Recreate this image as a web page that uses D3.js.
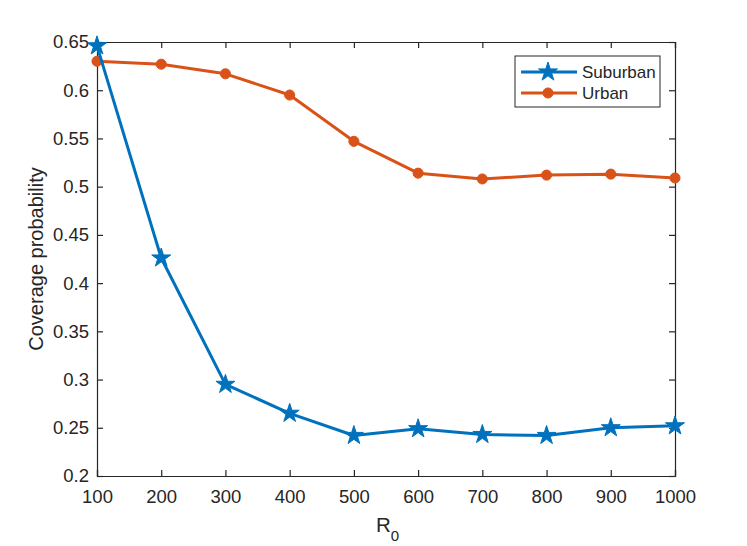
<!DOCTYPE html>
<html>
<head>
<meta charset="utf-8">
<script src="https://cdn.jsdelivr.net/npm/d3@7"></script>
<style>
  body { margin: 0; background: #fff; }
  svg { font-family: "Liberation Sans", Arial, sans-serif; }
</style>
</head>
<body>
<div id="chart"></div>
<script>
const radii = [100, 200, 300, 400, 500, 600, 700, 800, 900, 1000];
const suburban = [0.646, 0.426, 0.295, 0.265, 0.242, 0.249, 0.243, 0.242, 0.250, 0.252];
const urban = [0.630, 0.627, 0.617, 0.595, 0.547, 0.514, 0.508, 0.512, 0.513, 0.509];
const yTicks = [0.2, 0.25, 0.3, 0.35, 0.4, 0.45, 0.5, 0.55, 0.6, 0.65];

const width = 747, height = 546;
const margin = { top: 42, right: 72, bottom: 70, left: 97 };
const axisColor = '#262626';
const tickFont = 18.5;

const x = d3.scaleLinear()
    .domain([100, 1000])
    .range([margin.left, width - margin.right]);

const y = d3.scaleLinear()
    .domain([0.2, 0.65])
    .range([height - margin.bottom, margin.top]);

const svg = d3.select('#chart').append('svg')
    .attr('width', width)
    .attr('height', height);

// axes with inward ticks, box on all sides
const tickLen = 6;
const fmt = d => String(+d.toFixed(2));

svg.append('g')
    .attr('transform', `translate(0,${height - margin.bottom})`)
    .call(d3.axisBottom(x).tickValues(radii).tickSize(-tickLen).tickPadding(14).tickFormat(d3.format('d')))
    .call(g => g.selectAll('text').attr('font-size', tickFont));

svg.append('g')
    .attr('transform', `translate(0,${margin.top})`)
    .call(d3.axisTop(x).tickValues(radii).tickSize(-tickLen).tickFormat(''));

svg.append('g')
    .attr('transform', `translate(${margin.left},0)`)
    .call(d3.axisLeft(y).tickValues(yTicks).tickSize(-tickLen).tickPadding(8).tickFormat(fmt))
    .call(g => g.selectAll('text').attr('font-size', tickFont));

svg.append('g')
    .attr('transform', `translate(${width - margin.right},0)`)
    .call(d3.axisRight(y).tickValues(yTicks).tickSize(-tickLen).tickFormat(''));

svg.selectAll('.domain, .tick line')
    .attr('stroke', axisColor)
    .attr('stroke-width', 1.2);
svg.selectAll('.tick text').attr('fill', axisColor);

// axis labels
svg.append('text')
    .attr('transform', `translate(43,${(margin.top + height - margin.bottom) / 2}) rotate(-90)`)
    .attr('text-anchor', 'middle')
    .attr('font-size', 20)
    .attr('fill', axisColor)
    .text('Coverage probability');

const xl = svg.append('text')
    .attr('x', 376)
    .attr('y', 532)
    .attr('font-size', 20.5)
    .attr('fill', axisColor);
xl.append('tspan').text('R');
xl.append('tspan').attr('dy', 9).attr('font-size', 15).text('0');

// series
const series = [
    { name: 'Suburban', values: suburban, color: '#0072BD', marker: 'star' },
    { name: 'Urban', values: urban, color: '#D95319', marker: 'circle' }
];

const line = d3.line()
    .x((d, i) => x(radii[i]))
    .y(d => y(d));

const star = d3.symbol().type(d3.symbolStar).size(112);
const dot = d3.symbol().type(d3.symbolCircle).size(80);

function drawMarker(g, s, cx, cy) {
    g.append('path')
        .attr('d', s.marker === 'star' ? star() : dot())
        .attr('transform', `translate(${cx},${cy})`)
        .attr('fill', s.color)
        .attr('stroke', s.color)
        .attr('stroke-width', 1);
}

// draw urban first so suburban sits on top at the first point
[series[1], series[0]].forEach(s => {
    const g = svg.append('g');
    g.append('path')
        .attr('d', line(s.values))
        .attr('fill', 'none')
        .attr('stroke', s.color)
        .attr('stroke-width', 3)
        .attr('stroke-linejoin', 'round');
    s.values.forEach((v, i) => drawMarker(g, s, x(radii[i]), y(v)));
});

// legend
const legend = svg.append('g').attr('transform', 'translate(515,56)');
legend.append('rect')
    .attr('width', 145)
    .attr('height', 51)
    .attr('fill', '#fff')
    .attr('stroke', axisColor)
    .attr('stroke-width', 1);

series.forEach((s, i) => {
    const ly = 16 + i * 21;
    legend.append('line')
        .attr('x1', 6).attr('x2', 62)
        .attr('y1', ly).attr('y2', ly)
        .attr('stroke', s.color)
        .attr('stroke-width', 3);
    drawMarker(legend, s, 33, ly);
    legend.append('text')
        .attr('x', 67)
        .attr('y', ly + 6)
        .attr('font-size', 17)
        .attr('fill', axisColor)
        .text(s.name);
});
</script>
</body>
</html>
